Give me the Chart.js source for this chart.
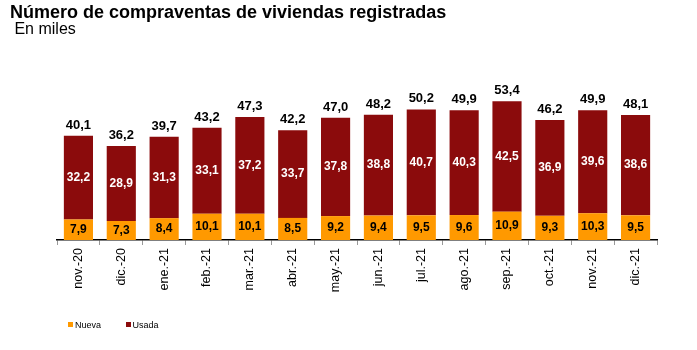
<!DOCTYPE html>
<html>
<head>
<meta charset="utf-8">
<script src="https://cdn.jsdelivr.net/npm/chart.js@4"></script>
<style>
  body { margin: 0; background: #fff; font-family: "Liberation Sans", Arial, sans-serif; }
  #wrap { position: relative; width: 697px; height: 350px; }
  #legend { position: absolute; left: 68px; top: 320px; font-size: 9px; color: #000; }
  #legend span { display: inline-block; margin-right: 22px; }
  #legend i { display: inline-block; width: 5px; height: 5px; margin-right: 2px; vertical-align: 1px; }
</style>
</head>
<body>
<div id="wrap">
  <canvas id="myChart" width="697" height="350"></canvas>
  <div id="legend">
    <span><i style="background:#FF9900"></i>Nueva</span>
    <span><i style="background:#8B0B0C"></i>Usada</span>
  </div>
</div>
<script>
const months = ["nov.-20", "dic.-20", "ene.-21", "feb.-21", "mar.-21", "abr.-21", "may.-21",
  "jun.-21", "jul.-21", "ago.-21", "sep.-21", "oct.-21", "nov.-21", "dic.-21"];
const nueva = [7.9, 7.3, 8.4, 10.1, 10.1, 8.5, 9.2, 9.4, 9.5, 9.6, 10.9, 9.3, 10.3, 9.5];
const usada = [32.2, 28.9, 31.3, 33.1, 37.2, 33.7, 37.8, 38.8, 40.7, 40.3, 42.5, 36.9, 39.6, 38.6];
const totales = [40.1, 36.2, 39.7, 43.2, 47.3, 42.2, 47.0, 48.2, 50.2, 49.9, 53.4, 46.2, 49.9, 48.1];

const fmt = (v) => v.toFixed(1).replace(".", ",");

// etiquetas dentro de las barras y totales encima
const barLabels = {
  id: "barLabels",
  afterDatasetsDraw(chart) {
    const ctx = chart.ctx;
    ctx.save();
    ctx.textAlign = "center";
    ctx.textBaseline = "middle";
    chart.data.datasets.forEach((ds, di) => {
      const meta = chart.getDatasetMeta(di);
      meta.data.forEach((bar, i) => {
        ctx.font = "bold 12px 'Liberation Sans', Arial, sans-serif";
        ctx.fillStyle = di === 0 ? "#000" : "#fff";
        ctx.fillText(fmt(ds.data[i]), bar.x, (bar.y + bar.base) / 2);
        if (di === chart.data.datasets.length - 1) {
          ctx.font = "bold 13px 'Liberation Sans', Arial, sans-serif";
          ctx.fillStyle = "#000";
          ctx.textBaseline = "alphabetic";
          ctx.fillText(fmt(totales[i]), bar.x, bar.y - 7);
          ctx.textBaseline = "middle";
        }
      });
    });
    ctx.restore();
  },
};

const ctx = document.getElementById("myChart");
window.chart = new Chart(ctx, {
  type: "bar",
  data: {
    labels: months,
    datasets: [
      { label: "Nueva", data: nueva, backgroundColor: "#FF9900" },
      { label: "Usada", data: usada, backgroundColor: "#8B0B0C" },
    ],
  },
  options: {
    responsive: false,
    animation: false,
    events: [],
    categoryPercentage: 1,
    barPercentage: 0.68,
    layout: { padding: { left: 10, right: 40, top: 0, bottom: 0 } },
    plugins: {
      legend: { display: false },
      tooltip: { enabled: false },
      title: {
        display: true,
        align: "start",
        text: "Número de compraventas de viviendas registradas",
        color: "#000",
        font: { family: "'Liberation Sans', Arial, sans-serif", size: 18, weight: "bold", lineHeight: 1 },
        padding: { top: 4, bottom: 0 },
      },
      subtitle: {
        display: true,
        align: "start",
        text: " En miles",
        color: "#000",
        font: { family: "'Liberation Sans', Arial, sans-serif", size: 16, lineHeight: 1 },
        padding: { top: 0, bottom: 46 },
      },
    },
    scales: {
      x: {
        stacked: true,
        grid: { display: true, drawOnChartArea: false, offset: true, tickLength: 5, color: "#999" },
        border: { display: true, color: "#000", width: 1.5 },
        ticks: {
          minRotation: 90,
          maxRotation: 90,
          padding: 3,
          color: "#000",
          font: { family: "'Liberation Sans', Arial, sans-serif", size: 12.5 },
        },
        afterFit(scale) {
          scale.height = 110;
        },
      },
      y: {
        stacked: true,
        min: 0,
        max: 60,
        grid: { display: false },
        border: { display: false },
        ticks: { display: false },
        afterFit(scale) {
          scale.width = 47;
        },
      },
    },
  },
  plugins: [barLabels],
});
</script>
</body>
</html>
